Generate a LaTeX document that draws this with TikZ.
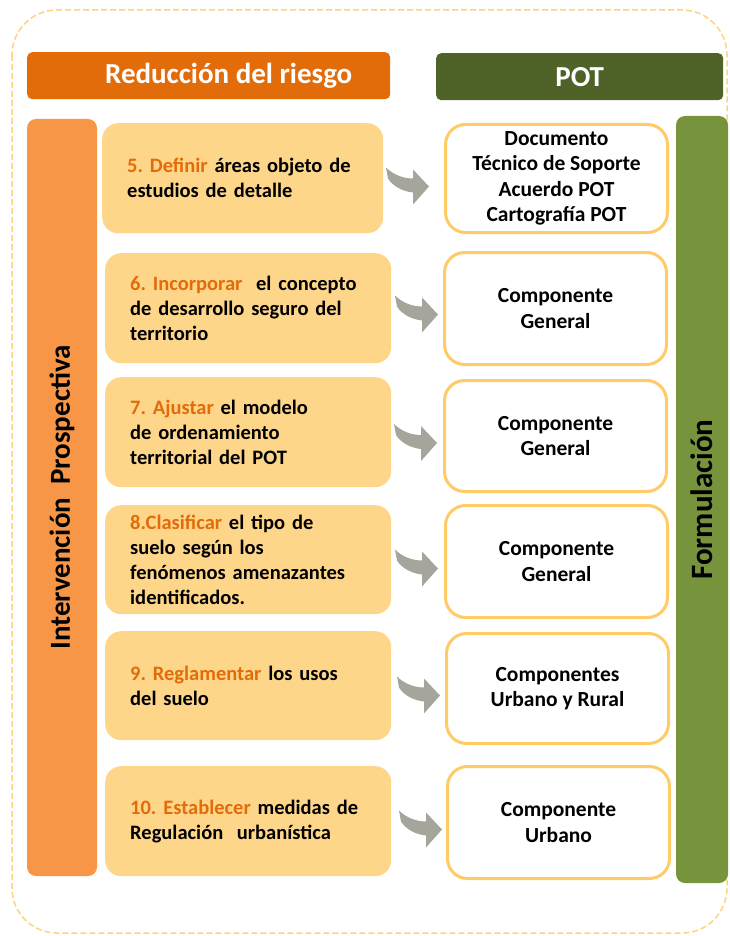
\documentclass[tikz,border=0pt]{standalone}
\usepackage{fontspec}
\setmainfont{Carlito}
\usetikzlibrary{positioning}
\definecolor{riskOrange}{HTML}{E36C0A}
\definecolor{potGreen}{HTML}{4F6228}
\definecolor{barOrange}{HTML}{F79646}
\definecolor{barGreen}{HTML}{77933C}
\definecolor{stepFill}{HTML}{FED68A}
\definecolor{compBorder}{HTML}{FFCB66}
\definecolor{frameGold}{HTML}{FFD27F}
\definecolor{arrowGray}{HTML}{A5A59C}
\newcommand{\accion}[1]{\textcolor{riskOrange}{#1}}
\frenchspacing

\begin{document}
\begin{tikzpicture}[x=1pt, y=-1pt,
  header/.style={rounded corners=5pt, text=white, anchor=north west, inner sep=0pt,
    minimum height=47pt, font=\fontsize{29}{34}\selectfont\bfseries},
  sidebar/.style={rounded corners=9pt, rotate=90, inner sep=0pt,
    font=\fontsize{29}{34}\selectfont\bfseries},
  stepbox/.style={fill=stepFill, rounded corners=16pt, anchor=north west, align=left,
    inner xsep=25pt, inner ysep=0pt, minimum height=110pt,
    font=\fontsize{20.5}{25}\selectfont\bfseries},
  compbox/.style={draw=compBorder, line width=3pt, fill=white, rounded corners=20pt,
    anchor=north west, align=center, inner sep=0pt, minimum width=222pt,
    minimum height=110pt, font=\fontsize{21.5}{25.5}\selectfont\bfseries},
  bentarrow/.pic={
    \fill[arrowGray] (0,0) -- (-16,18) -- (-16,6)
      .. controls (-26,5) and (-36,0) .. (-41,-8) -- (-43,-19)
      .. controls (-36,-12) and (-26,-8) .. (-16,-8)
      -- (-16,-17) -- cycle;
  }
]
\useasboundingbox (0,0) rectangle (729,936);

% marco
\draw[frameGold, line width=1.5pt, dash pattern=on 6pt off 3pt, rounded corners=45pt]
  (12,10) rectangle (727,933);

% encabezados
\node[header, fill=riskOrange, minimum width=363pt,
  label={[text=white, xshift=20pt, font=\fontsize{29}{34}\selectfont\bfseries]center:Reducción del riesgo}]
  (riesgo) at (27,52) {};
\node[header, fill=potGreen, minimum width=287pt] (pot) at (436,53) {POT};

% barras laterales
\node[sidebar, fill=barOrange, minimum width=757pt, minimum height=70pt]
  (intervencion) at (62,497.5) {Intervención\ \ Prospectiva};
\node[sidebar, fill=barGreen, minimum width=767pt, minimum height=52pt,
  font=\fontsize{31}{36}\selectfont\bfseries]
  (formulacion) at (702,499.5) {Formulación};

% pasos
\node[stepbox, text width=231pt] (paso5) at (102,123)
  {\accion{5. Definir} áreas objeto de\\estudios de detalle};
\node[stepbox, text width=236pt] (paso6) at (105,253)
  {\accion{6. Incorporar}\ \ el concepto\\de desarrollo seguro del\\territorio};
\node[stepbox, text width=236pt] (paso7) at (105,377)
  {\accion{7. Ajustar} el modelo\\de ordenamiento\\territorial del POT};
\node[stepbox, text width=236pt, minimum height=109pt] (paso8) at (105,505)
  {\accion{8.Clasificar} el tipo de\\suelo según los\\fenómenos amenazantes\\identificados.};
\node[stepbox, text width=236pt, minimum height=109pt] (paso9) at (105,631)
  {\accion{9. Reglamentar} los usos\\del suelo};
\node[stepbox, text width=236pt] (paso10) at (105,766)
  {\accion{10. Establecer} medidas de\\Regulación\ \ urbanística};

% componentes POT
\node[compbox, minimum height=108pt] (documento) at (444,123)
  {Documento\\Técnico de Soporte\\Acuerdo POT\\Cartografía POT};
\node[compbox, minimum height=112pt] (general1) at (443,251) {Componente\\General};
\node[compbox, minimum height=111pt] (general2) at (443,379) {Componente\\General};
\node[compbox, minimum height=112pt] (general3) at (444,504) {Componente\\General};
\node[compbox] (urbanorural) at (445,632) {Componentes\\Urbano y Rural};
\node[compbox, minimum height=112pt] (urbano) at (446,765) {Componente\\Urbano};

% flechas
\path (documento.west) ++(-15,8) pic {bentarrow};
\path (general1.west) ++(-5,6) pic {bentarrow};
\path (general2.west) ++(-6,7) pic {bentarrow};
\path (general3.west) ++(-6,7) pic {bentarrow};
\path (urbanorural.west) ++(-5,7) pic {bentarrow};
\path (urbano.west) ++(-4,7) pic {bentarrow};

\end{tikzpicture}
\end{document}
